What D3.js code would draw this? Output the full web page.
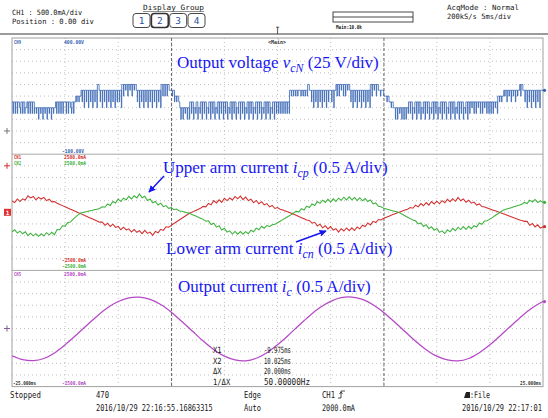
<!DOCTYPE html>
<html><head><meta charset="utf-8">
<script src="https://cdn.jsdelivr.net/npm/d3@7"></script>
<style>body{margin:0;background:#fff}svg{display:block}</style>
</head><body>
<svg id="scope" width="548" height="418"></svg>
<script>
// ---- acquisition settings ----
const timeRange = [-25, 25];                 // ms, 5 ms/div
const cursorTimes = [-9.975, 10.025];        // X1, X2 (ms)
const voltRange = [-100, 400];               // CH9 scale (V)
const currentRange = [-2500, 2500];          // CH1/CH2/CH5 scale (mA)

// ---- output voltage v_cN: level codes, one char per 0.1 ms, one string per division ----
const voltageLevels = [50, 75, 100, 125, 150, 175, 200];   // V
const voltageCodes = [
  "3131313213131231313131" + "2120212021202120212" + "313131313",
  "3131321313" + "43434" + "5352535253525352" + "6" + "535253525352535253",
  "5352" + "6465646564656" + "535253525352535253525352" + "64646465" + "5",
  "545" + "34343" + "2020212020" + "31302130213031302130313021303130",
  "31302130313021303130213031302130313021303130213031",
  "313131313131" + "545454545" + "5454545465" + "5352535253525352535",
  "53525" + "6464656464656" + "53525352535253525352" + "64656465" + "5455",
  "4443433232" + "20202120202021" + "31302130313021303130213031",
  "302130313021303130213031302130" + "31323131323131323131",
  "31313231" + "43434" + "54535453545354" + "56465" + "535253525352535255",
  "5"
];

// ---- lower arm current i_cn (CH1, red), mA every 0.25 ms ----
const lowerArm = [
  490,420,575,460,580,530,710,620,680,540,640,570,640,500,
  570,450,460,
  388,338,287,237,186,135,85,34,-17,-68,-118,-169,-220,-270,-321,-372,-422,
  -420,-560,-470,-610,-510,-650,-610,-750,-640,-760,-710,-850,-740,-860,-790,-920,-780,-910,-850,-990,
  -820,-880,-735,-780,-620,-640,
  -560,-484,-408,-332,-256,-180,-104,-33,19,70,122,173,255,236,378,319,501,
  403,536,428,601,503,616,528,681,583,695,544,653,503,562,411,510,369,459,318,377,
  234,294,164,204,
  134,94,54,14,-30,-80,-130,-180,-230,-280,-330,
  -350,-470,-430,-590,-511,-669,-578,-716,-615,-763,-702,-850,
  -706,-804,-672,-790,-668,-786,-634,-713,-558,-613,-458,-543,-388,-443,-308,-333,
  -259,-213,-166,-120,-74,-28,16,56,96,135,
  205,175,304,234,376,283,420,307,464,361,478,365,503,411,559,457,585,473,640,497,574,431,518,
  395,440,310,360,245,
  230,188,146,104,62,20,-22,-64,-106,-148,-190,-232,-274,-316,-358,-390,
  -390,-560,-480,-630,-540,-680,-620
];

// ---- upper arm current i_cp (CH2, green), mA every 0.25 ms ----
const upperArm = [
  -836,-750,-895,-809,-924,-838,-1003,-897,-1011,-918,-1035,-922,-1019,-876,-973,-860,-960,
  -745,-750,-578,-595,-443,-420,
  -300,-200,-100,-28,0,26,53,81,109,136,164,
  239,218,356,295,463,402,570,
  464,612,540,687,575,712,620,790,
  626,693,509,576,412,
  464,313,392,242,291,171,200,
  109,138,57,
  46,15,-16,-50,-101,-152,-203,-254,-305,
  -386,-367,
  -524,-470,-637,-574,-760,-687,-853,-800,
  -937,-823,-940,-827,-943,-830,
  -920,-770,-840,-680,-750,
  -602,-687,-562,-617,-535,
  -519,-451,-383,-314,-246,-178,-109,-40,
  49,8,157,96,265,204,363,292,461,
  385,520,425,560,445,580,465,610,515,650,530,
  667,536,636,505,625,494,594,463,
  533,362,401,260,
  235,170,
  140,110,80,50,20,
  -25,-87,-149,-211,-273,-335,
  -367,-499,
  -457,-609,-532,-704,-617,-769,-692,-864,-796,
  -912,-752,-842,-692,-792,-640,
  -743,-616,-739,-602,-705,
  -578,-634,-459,-515,-370,
  -360,-294,-217,-140,-63,14,93,129,165,200,236,272,308,347,
  426,376,525,444,
  555,420,495,430
];

// ---- output current i_c (CH5, magenta), mA every 1 ms ----
const outputCurrent = [
  -1180,-1340,-1385,-1290,-1050,-700,-300,120,530,890,
  1160,1320,1350,1250,1030,700,300,-120,-540,-910,
  -1190,-1350,-1390,-1280,-1040,-700,-300,130,540,900,
  1170,1330,1355,1250,1020,690,290,-130,-550,-910,
  -1190,-1350,-1395,-1290,-1040,-700,-300,120,530,890,1160
];

// ---- on-screen labels ----
const displayGroups = ["1", "2", "3", "4"];
const cursorLabels = ["X1", "X2", "ΔX", "1/ΔX"];
const cursorValues = ["-9.975ms", "10.025ms", "20.000ms", "50.00000Hz"];

// ---- layout ----
const svg = d3.select("#scope");
const frame = {left: 12, right: 543, top: 38, bottom: 386.6};
const panelH = (frame.bottom - frame.top) / 3;
const panelTop = [0, 1, 2].map(i => frame.top + i * panelH);

const x = d3.scaleLinear().domain(timeRange).range([frame.left, frame.right]);
const yV = d3.scaleLinear().domain(voltRange).range([panelTop[0] + panelH, panelTop[0]]);
const yArm = d3.scaleLinear().domain(currentRange).range([panelTop[1] + panelH, panelTop[1]]);
const yOut = d3.scaleLinear().domain(currentRange).range([panelTop[2] + panelH, panelTop[2]]);

const COL = {
  volt: "#3563b2", red: "#d32f2f", green: "#3cb23c", mag: "#b548c6",
  note: "#1717f2", ui: "#161616", grid: "#b0b0b0"
};

// monospace screen text, squeezed horizontally to the given width
function ui(x0, y0, s, o = {}) {
  const fs = o.size || 9;
  const t = svg.append("text").text(s)
    .attr("font-family", "DejaVu Sans Mono")
    .attr("font-size", fs)
    .attr("font-weight", o.weight || "normal")
    .attr("fill", o.fill || COL.ui);
  if (o.anchor) t.attr("text-anchor", o.anchor);
  const sx = o.len ? o.len / (s.length * 0.602 * fs) : 1;
  t.attr("transform", `translate(${x0},${y0}) scale(${sx},1)`);
  return t;
}

// ---- header ----
const hdr = 7.3;
ui(12, 15.3, "CH1      : 500.0mA/div", {size: hdr, len: 91});
ui(12, 24.3, "Position : 0.00 div", {size: hdr, len: 82});
ui(143, 9.5, "Display Group", {size: hdr, len: 61});
svg.append("line").attr("x1", 143).attr("x2", 204).attr("y1", 11.5).attr("y2", 11.5)
  .attr("stroke", "#444").attr("stroke-width", 0.6);
const btnX = d3.scalePoint().domain(displayGroups).range([141.5, 196.5]);
displayGroups.forEach(g => {
  svg.append("rect").attr("x", btnX(g) - 8.5).attr("y", 13.5).attr("width", 17).attr("height", 14)
    .attr("rx", 3).attr("fill", "#fff").attr("stroke", "#333")
    .attr("stroke-width", g === "2" ? 1.7 : 0.9);
  ui(btnX(g), 24, g, {size: 9.5, fill: "#2a50a0", anchor: "middle"});
});
svg.append("rect").attr("x", 333).attr("y", 12).attr("width", 80).attr("height", 10)
  .attr("fill", "none").attr("stroke", "#333").attr("stroke-width", 0.9);
svg.append("line").attr("x1", 333).attr("x2", 413).attr("y1", 17).attr("y2", 17)
  .attr("stroke", "#333").attr("stroke-width", 0.9);
ui(336, 28.5, "Main:10.0k", {size: 5.5, weight: "bold", len: 26});
ui(447, 10.3, "AcqMode : Normal", {size: hdr, len: 72});
ui(447, 19.3, "200kS/s    5ms/div", {size: hdr, len: 77});
svg.append("line").attr("x1", 0).attr("x2", 548).attr("y1", 34).attr("y2", 34)
  .attr("stroke", "#7a7a7a").attr("stroke-width", 1.6);
// trigger position mark
ui(x(0), 31, "T", {size: 6, weight: "bold", anchor: "middle", fill: "#333"});
svg.append("line").attr("x1", x(0)).attr("x2", x(0)).attr("y1", 31).attr("y2", 34)
  .attr("stroke", "#333").attr("stroke-width", 0.8);

// ---- grid ----
const grid = svg.append("g");
const divTimes = d3.range(timeRange[0] + 5, timeRange[1], 5);
grid.selectAll("line.v").data(divTimes).join("line")
  .attr("x1", d => x(d)).attr("x2", d => x(d))
  .attr("y1", frame.top).attr("y2", frame.bottom)
  .attr("stroke", COL.grid).attr("stroke-width", 0.8).attr("stroke-dasharray", "1,3");
panelTop.forEach(top => {
  const rows = d3.range(1, 10).map(i => top + i * panelH / 10);
  grid.append("g").selectAll("line").data(rows).join("line")
    .attr("x1", frame.left).attr("x2", frame.right)
    .attr("y1", d => d).attr("y2", d => d)
    .attr("stroke", COL.grid).attr("stroke-width", 0.8).attr("stroke-dasharray", "1,3");
});
[panelTop[1], panelTop[2]].forEach(yy => {
  svg.append("line").attr("x1", frame.left).attr("x2", frame.right).attr("y1", yy).attr("y2", yy)
    .attr("stroke", "#a8a8a8").attr("stroke-width", 1);
});
svg.append("rect").attr("x", frame.left).attr("y", frame.top)
  .attr("width", frame.right - frame.left).attr("height", frame.bottom - frame.top)
  .attr("fill", "none").attr("stroke", "#a0a0a0").attr("stroke-width", 1);

// cursors
svg.selectAll("line.cur").data(cursorTimes).join("line")
  .attr("x1", d => x(d)).attr("x2", d => x(d))
  .attr("y1", frame.top).attr("y2", frame.bottom)
  .attr("stroke", "#666").attr("stroke-width", 1).attr("stroke-dasharray", "3,2");

// ---- traces ----
svg.append("clipPath").attr("id", "clip").append("rect")
  .attr("x", frame.left).attr("y", frame.top)
  .attr("width", frame.right - frame.left + 2).attr("height", frame.bottom - frame.top);
const traces = svg.append("g").attr("clip-path", "url(#clip)");

// PWM voltage: each 0.1 ms sample holds its level; short dips are drawn as narrow notches
const codes = voltageCodes.join("").split("").map(c => voltageLevels[+c]);
const dt = 0.1, notch = 0.035;
const vPts = [];
codes.forEach((v, i) => {
  const t0 = timeRange[0] + i * dt;
  const dip = i > 0 && i < codes.length - 1 && v < codes[i - 1] && v < codes[i + 1];
  const t1 = Math.min(t0 + (dip ? notch : dt), timeRange[1]);
  const next = i < codes.length - 1 ? codes[i + 1] : v;
  vPts.push({t: t0, v}, {t: t1, v}, {t: t1, v: next});
});
traces.append("path").datum(vPts)
  .attr("d", d3.line().x(d => x(d.t)).y(d => yV(d.v)))
  .attr("fill", "none").attr("stroke", COL.volt).attr("stroke-width", 0.8);

function series(arr) {
  const step = (timeRange[1] - timeRange[0]) / (arr.length - 1);
  return arr.map((v, i) => ({t: timeRange[0] + i * step, v}));
}
const armLine = d3.line().x(d => x(d.t)).y(d => yArm(d.v));
traces.append("path").datum(series(lowerArm)).attr("d", armLine)
  .attr("fill", "none").attr("stroke", COL.red).attr("stroke-width", 1.05);
traces.append("path").datum(series(upperArm)).attr("d", armLine)
  .attr("fill", "none").attr("stroke", COL.green).attr("stroke-width", 1.05);

traces.append("path").datum(series(outputCurrent))
  .attr("d", d3.line().x(d => x(d.t)).y(d => yOut(d.v)).curve(d3.curveCatmullRom))
  .attr("fill", "none").attr("stroke", COL.mag).attr("stroke-width", 1.25);

// trace end dots
[[yV(codes[codes.length - 1]), COL.volt],
 [yArm(lowerArm[lowerArm.length - 1]), COL.red],
 [yArm(upperArm[upperArm.length - 1]), COL.green],
 [yOut(outputCurrent[outputCurrent.length - 1]), COL.mag]].forEach(([yy, c]) => {
  svg.append("circle").attr("cx", frame.right + 1.5).attr("cy", yy).attr("r", 1.6).attr("fill", c);
});

// ---- channel labels ----
const small = {size: 5.5, weight: "bold"};
ui(14, 43.5, "CH9", {...small, fill: COL.volt, len: 7});
ui(64, 43.5, "400.00V", {...small, fill: COL.volt, len: 20});
ui(268, 43.5, "<Main>", {...small, fill: "#333", len: 18});
ui(62, 152.5, "-100.00V", {...small, fill: COL.volt, len: 22});
ui(14, 159, "CH1", {...small, fill: COL.red, len: 7});
ui(64, 159, "2500.0mA", {...small, fill: COL.red, len: 22});
ui(14, 165, "CH2", {...small, fill: COL.green, len: 7});
ui(64, 165, "2500.0mA", {...small, fill: COL.green, len: 22});
ui(62, 262, "-2500.0mA", {...small, fill: COL.red, len: 24});
ui(62, 268, "-2500.0mA", {...small, fill: COL.green, len: 24});
ui(14, 276, "CH5", {...small, fill: COL.mag, len: 7});
ui(64, 276, "2500.0mA", {...small, fill: COL.mag, len: 22});
ui(13, 384.5, "-25.000ms", {...small, fill: "#333", len: 23});
ui(62, 384.5, "-2500.0mA", {...small, fill: COL.mag, len: 24});
ui(541, 384.5, "25.000ms", {...small, fill: "#333", len: 21, anchor: "end"});

// ground / trigger level markers on the left edge
function levelMark(yy, c) {
  svg.append("path").attr("d", `M4,${yy} H10 M7,${yy - 3} V${yy + 3}`)
    .attr("stroke", c).attr("stroke-width", 1).attr("fill", "none");
}
levelMark(yV(0), "#777");
levelMark(yArm(2000), COL.red);
levelMark(yOut(0), "#8a5a9a");
svg.append("rect").attr("x", 4).attr("y", yArm(0) - 3.5).attr("width", 7).attr("height", 7)
  .attr("fill", "#e03030");
ui(7.5, yArm(0) + 2.5, "1", {size: 6, fill: "#fff", anchor: "middle", weight: "bold"});

// ---- cursor readout ----
cursorLabels.forEach((lab, i) => {
  const yy = 353 + i * 10.5;
  ui(213, yy, lab, {size: 8.5, len: lab.length * 4.3});
  ui(264, yy, cursorValues[i], {size: 8.5, len: cursorValues[i].length > 8 ? 46 : 27});
});

// ---- footer ----
ui(10, 398, "Stopped", {len: 31});
ui(96, 398, "470", {len: 13});
ui(96, 411, "2016/10/29 22:16:55.16863315", {len: 117});
ui(244, 398, "Edge", {len: 17});
ui(244, 411, "Auto", {len: 17});
ui(322, 398, "CH1", {len: 13});
svg.append("path").attr("d", "M338,398 H341 V391 H345 M339.5,394 L341,392 L342.5,394")
  .attr("fill", "none").attr("stroke", "#222").attr("stroke-width", 0.8);
ui(322, 411, "2000.0mA", {len: 33});
svg.append("path").attr("d", "M464,398 L466,392 H470 V398 Z").attr("fill", "#222");
ui(470, 398, ":File", {len: 20});
ui(462, 411, "2016/10/29 22:17:01", {len: 80});

// ---- annotations ----
function note(x0, y0, size, lead, sym, sub, tail) {
  const t = svg.append("text").attr("x", x0).attr("y", y0)
    .attr("font-family", "Liberation Serif").attr("font-size", size).attr("fill", COL.note);
  t.append("tspan").text(lead);
  t.append("tspan").attr("font-style", "italic").text(sym);
  t.append("tspan").attr("font-style", "italic").attr("font-size", size * 0.7).attr("dy", 4).text(sub);
  t.append("tspan").attr("dy", -4).text(tail);
}
note(177, 68, 17, "Output voltage ", "v", "cN", " (25 V/div)");
note(163, 173, 17, "Upper arm current ", "i", "cp", " (0.5 A/div)");
note(166, 254, 17, "Lower arm current ", "i", "cn", " (0.5 A/div)");
note(178, 292, 17, "Output current ", "i", "c", " (0.5 A/div)");

svg.append("defs").append("marker").attr("id", "ah").attr("viewBox", "0 0 10 10")
  .attr("refX", 9).attr("refY", 5).attr("markerWidth", 7).attr("markerHeight", 7)
  .attr("orient", "auto-start-reverse").attr("markerUnits", "userSpaceOnUse")
  .append("path").attr("d", "M0,0 L10,5 L0,10 Z").attr("fill", COL.note);
[[164, 176, 149, 192], [296, 242, 326, 231]].forEach(([x1, y1, x2, y2]) => {
  svg.append("line").attr("x1", x1).attr("y1", y1).attr("x2", x2).attr("y2", y2)
    .attr("stroke", COL.note).attr("stroke-width", 1.5).attr("marker-end", "url(#ah)");
});
</script>
</body></html>
